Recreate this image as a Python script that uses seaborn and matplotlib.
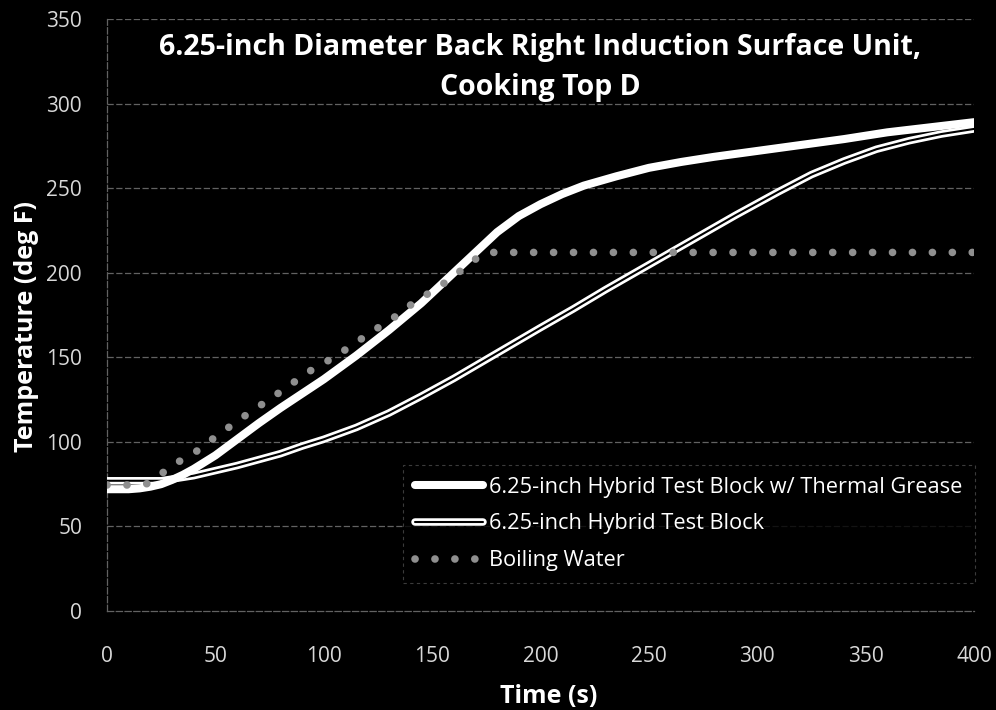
import matplotlib
matplotlib.use("Agg")
import matplotlib.pyplot as plt
import matplotlib.patheffects as pe
import seaborn as sns
import pandas as pd

# ---- data ----
time_grease = [0, 10, 15, 20, 25, 30, 35, 40, 45, 50, 60, 70, 80, 90, 100, 115, 130, 145,
               160, 170, 180, 190, 200, 210, 220, 235, 250, 265, 280, 300, 320, 340, 360, 380, 400]
temp_grease = [72, 72, 72.5, 73.5, 75, 77.5, 80.5, 84, 88, 92, 101.5, 111, 120, 128.5, 137,
               151, 166, 182, 200, 212, 224, 233.5, 240.5, 246.5, 251.5, 257, 262, 265.5,
               268.5, 272, 275.5, 279, 283, 286, 289]

time_hybrid = [0, 10, 20, 25, 30, 40, 50, 60, 70, 80, 90, 100, 115, 130, 145, 160, 170, 180,
               190, 200, 215, 230, 245, 260, 275, 290, 300, 310, 325, 340, 355, 370, 385, 400]
temp_hybrid = [77, 77, 77, 77, 78, 80, 83, 86, 89.5, 93, 97.5, 101.5, 108.5, 117, 127, 137.5,
               145, 152.5, 160, 167.5, 178.5, 190, 201, 212, 223, 234, 241, 248, 258, 266,
               273, 278, 282, 285]

time_boil = [0, 10, 18, 22, 27, 34, 42, 48, 55, 62, 69, 77, 84, 91, 98, 106, 114, 121,
             128, 136, 142, 150, 158, 165, 172, 176, 400]
temp_boil = [74.5, 74.5, 75, 78, 83, 89, 95, 101, 107.5, 114, 120, 127, 133, 140, 145, 151,
             158, 164, 170, 176.5, 183, 189, 196, 203, 210, 212, 212]

labels = ["6.25-inch Hybrid Test Block w/ Thermal Grease",
          "6.25-inch Hybrid Test Block",
          "Boiling Water"]
title = "6.25-inch Diameter Back Right Induction Surface Unit,\nCooking Top D"
x_ticks = [0, 50, 100, 150, 200, 250, 300, 350, 400]
y_ticks = [0, 50, 100, 150, 200, 250, 300, 350]

df_grease = pd.DataFrame({"Time": time_grease, "Temp": temp_grease})
df_hybrid = pd.DataFrame({"Time": time_hybrid, "Temp": temp_hybrid})
df_boil = pd.DataFrame({"Time": time_boil, "Temp": temp_boil})

sns.set_theme(style="dark")
plt.rcParams["font.family"] = ["Open Sans", "DejaVu Sans"]

fig = plt.figure(figsize=(9.96, 7.10), dpi=100, facecolor="black")
ax = fig.add_axes([107 / 996, 1 - 611 / 710, (974 - 107) / 996, (611 - 19) / 710])
ax.set_facecolor("black")

grid_c = "#626262"
for yv in y_ticks[1:]:
    ax.axhline(yv, color=grid_c, lw=0.9, ls=(0, (5, 2)), zorder=1)

sns.lineplot(data=df_grease, x="Time", y="Temp", ax=ax, color="white", lw=5.8,
             label=labels[0], solid_capstyle="round", solid_joinstyle="round", zorder=4)
sns.lineplot(data=df_hybrid, x="Time", y="Temp", ax=ax, color="black", lw=1.5,
             label=labels[1], zorder=3, solid_joinstyle="round",
             path_effects=[pe.Stroke(linewidth=5.4, foreground="white"), pe.Normal()])
sns.lineplot(data=df_boil, x="Time", y="Temp", ax=ax, color="#8f8f8f", lw=5.5,
             label=labels[2], zorder=5)
bl = ax.get_lines()[-1]
bl.set_dashes((0.01, 2.6))
bl.set_dash_capstyle("round")

ax.set_xlim(0, 400)
ax.set_ylim(0, 350)
ax.set_xticks(x_ticks)
ax.set_yticks(y_ticks)
ax.tick_params(colors="#d8d8d8", labelsize=15, color=grid_c, width=0.9)
ax.tick_params(axis="x", length=5, pad=20)
ax.tick_params(axis="y", length=6, pad=12)
for sp in ["top", "right"]:
    ax.spines[sp].set_visible(False)
for sp in ["left", "bottom"]:
    ax.spines[sp].set_visible(True)
    ax.spines[sp].set_color(grid_c)
    ax.spines[sp].set_linestyle((0, (5, 2)))
    ax.spines[sp].set_linewidth(0.9)

ax.set_xlabel("Time (s)", color="white", fontsize=18, fontweight="bold")
ax.set_ylabel("Temperature (deg F)", color="white", fontsize=18, fontweight="bold")
ax.xaxis.set_label_coords(0.51, -0.144)
ax.xaxis.label.set_va("center")
ax.yaxis.set_label_coords(-0.0934, 0.48)
ax.yaxis.label.set_va("center")

ax.text(0.5, 0.976, title, transform=ax.transAxes, ha="center", va="top",
        color="white", fontsize=20.5, fontweight="bold", linespacing=1.5)

leg = ax.legend(loc="lower right", bbox_to_anchor=(1.001, 0.047), fontsize=15.7,
                frameon=True, facecolor="black", edgecolor="#4a4a4a",
                labelcolor="white", handlelength=3.1, handletextpad=0.3,
                labelspacing=0.72, borderpad=0.55, fancybox=False, borderaxespad=0)
leg.get_frame().set_linestyle((0, (3, 3)))
leg.get_frame().set_linewidth(0.8)

fig.savefig("out.png", dpi=100, facecolor="black")
